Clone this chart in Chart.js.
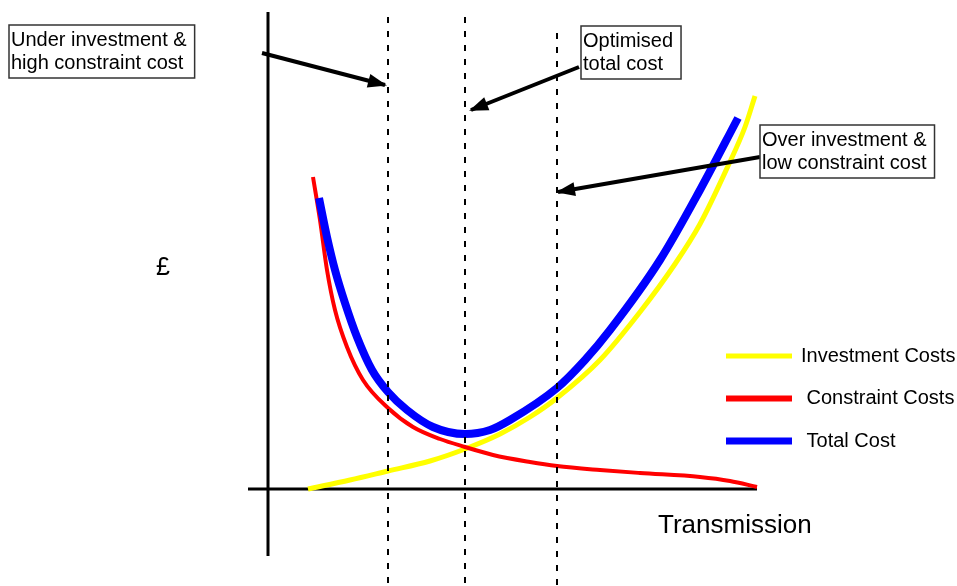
<!DOCTYPE html>
<html>
<head>
<meta charset="utf-8">
<script src="https://cdn.jsdelivr.net/npm/chart.js@4"></script>
<style>
  body { margin: 0; background: #fff; }
  #wrap { width: 957px; height: 586px; }
</style>
</head>
<body>
<div id="wrap"><canvas id="costChart" width="957" height="586"></canvas></div>
<script>
// Transmission level (x) / cost in £ (y)
const investX = [0.8, 1.64, 2.4, 3.24, 3.94, 4.64, 5.24, 5.78, 6.64, 7.44, 8.14, 8.64, 9.2, 9.54, 9.74];
const investY = [0, 0.18, 0.36, 0.56, 0.8, 1.1, 1.44, 1.82, 2.58, 3.54, 4.5, 5.3, 6.46, 7.24, 7.86];

const constraintX = [0.9, 1.04, 1.18, 1.34, 1.58, 1.9, 2.4, 2.9, 3.44, 3.94, 4.5, 5.24, 5.78, 6.64, 7.44, 8.64, 9.24, 9.78];
const constraintY = [6.24, 5.38, 4.38, 3.58, 2.84, 2.18, 1.62, 1.24, 1.0, 0.84, 0.68, 0.54, 0.46, 0.38, 0.32, 0.24, 0.16, 0.04];

const totalX = [1.02, 1.18, 1.34, 1.54, 1.78, 2.08, 2.4, 2.78, 3.3, 3.94, 4.44, 4.84, 5.78, 6.34, 6.84, 7.84, 8.64, 9.4];
const totalY = [5.82, 5.04, 4.38, 3.72, 3.04, 2.38, 1.94, 1.58, 1.24, 1.1, 1.18, 1.38, 2.02, 2.58, 3.18, 4.58, 5.98, 7.42];

const seriesNames = ['Investment Costs', ' Constraint Costs', ' Total Cost'];

// the three marker levels (under / optimum / over) and where their dashes start
const markerX = [2.4, 3.94, 5.78];
const markerTop = [9.44, 9.44, 9.12];
const markerBottom = -1.94;

// axes of the sketch
const vAxisY = [9.54, -1.34];
const hAxisX = [-0.4, 9.78];

// callout arrows: tail -> head
const arrowFromX = [-0.12, 6.22, 9.84];
const arrowFromY = [8.72, 8.44, 6.64];
const arrowToX = [2.34, 4.06, 5.8];
const arrowToY = [8.08, 7.58, 5.94];

const calloutText = [
  ['Under investment &', 'high constraint cost'],
  ['Optimised', 'total cost'],
  ['Over investment &', 'low constraint cost']
];

const FONT = '"Liberation Sans", Arial, sans-serif';

function pts(xs, ys) { return xs.map((x, i) => ({x: x, y: ys[i]})); }

let datasets = [];

// arrows on top
for (let i = 0; i < arrowFromX.length; i++) {
  datasets.push({
    data: [{x: arrowFromX[i], y: arrowFromY[i]}, {x: arrowToX[i], y: arrowToY[i]}],
    borderColor: '#000', borderWidth: 4, arrow: true
  });
}
// dashed markers
for (let i = 0; i < markerX.length; i++) {
  datasets.push({
    data: [{x: markerX[i], y: markerTop[i]}, {x: markerX[i], y: markerBottom}],
    borderColor: '#000', borderWidth: 2, borderDash: [6, 8]
  });
}
// curves
datasets.push({label: seriesNames[2], data: pts(totalX, totalY), borderColor: '#0000ff', borderWidth: 8, curve: true});
datasets.push({label: seriesNames[1], data: pts(constraintX, constraintY), borderColor: '#ff0000', borderWidth: 4, curve: true});
datasets.push({label: seriesNames[0], data: pts(investX, investY), borderColor: '#ffff00', borderWidth: 5, curve: true});
// axes at the bottom
datasets.push({data: [{x: 0, y: vAxisY[0]}, {x: 0, y: vAxisY[1]}], borderColor: '#000', borderWidth: 3});
datasets.push({data: [{x: hAxisX[0], y: 0}, {x: hAxisX[1], y: 0}], borderColor: '#000', borderWidth: 3});

datasets.forEach(d => { if (d.curve) d.cubicInterpolationMode = 'monotone'; });

// draws arrowheads, callout boxes, axis titles and the legend
const sketchPlugin = {
  id: 'sketch',
  afterDatasetsDraw(chart, args, opts) {
    const ctx = chart.ctx;
    const sx = chart.scales.x, sy = chart.scales.y;
    ctx.save();

    chart.data.datasets.forEach((ds, i) => {
      if (!ds.arrow) return;
      const p = chart.getDatasetMeta(i).data;
      const a = p[p.length - 2], b = p[p.length - 1];
      const ang = Math.atan2(b.y - a.y, b.x - a.x);
      const len = 17, half = 7;
      const bx = b.x - len * Math.cos(ang), by = b.y - len * Math.sin(ang);
      ctx.fillStyle = ds.borderColor;
      ctx.beginPath();
      ctx.moveTo(b.x + 2 * Math.cos(ang), b.y + 2 * Math.sin(ang));
      ctx.lineTo(bx + half * Math.sin(ang), by - half * Math.cos(ang));
      ctx.lineTo(bx - half * Math.sin(ang), by + half * Math.cos(ang));
      ctx.closePath();
      ctx.fill();
    });

    ctx.font = '20px ' + FONT;
    ctx.textBaseline = 'alphabetic';
    opts.boxes.forEach((pos, k) => {
      const lines = calloutText[k];
      const left = sx.getPixelForValue(pos.x), top = sy.getPixelForValue(pos.y);
      const w = Math.max(...lines.map(l => ctx.measureText(l).width)) + 10;
      const h = lines.length * 23 + 7;
      ctx.fillStyle = '#fff';
      ctx.fillRect(left, top, w, h);
      ctx.strokeStyle = '#333';
      ctx.lineWidth = 1.5;
      ctx.strokeRect(left, top, w, h);
      ctx.fillStyle = '#000';
      lines.forEach((l, j) => ctx.fillText(l, left + 2, top + 21 + j * 23));
    });

    // axis titles
    ctx.fillStyle = '#000';
    ctx.textBaseline = 'middle';
    ctx.textAlign = 'center';
    ctx.font = '25px ' + FONT;
    ctx.fillText('£', sx.getPixelForValue(opts.yTitle.x), sy.getPixelForValue(opts.yTitle.y));
    ctx.textAlign = 'left';
    ctx.font = '26px ' + FONT;
    ctx.fillText('Transmission', sx.getPixelForValue(opts.xTitle.x), sy.getPixelForValue(opts.xTitle.y));

    // legend
    const lg = opts.legend;
    ctx.font = '20px ' + FONT;
    const curves = chart.data.datasets.filter(d => d.curve).reverse();
    curves.forEach((ds, k) => {
      const y = lg.y + k * lg.gap;
      ctx.strokeStyle = ds.borderColor;
      ctx.lineWidth = [5, 6, 7][k];
      ctx.beginPath();
      ctx.moveTo(lg.x, y);
      ctx.lineTo(lg.x + lg.line, y);
      ctx.stroke();
      ctx.fillStyle = '#000';
      ctx.fillText(ds.label, lg.x + lg.line + 9, y);
    });
    ctx.restore();
  }
};

new Chart(document.getElementById('costChart'), {
  type: 'line',
  data: {datasets: datasets},
  options: {
    responsive: false,
    animation: false,
    layout: {padding: 0},
    elements: {point: {radius: 0, hoverRadius: 0}, line: {borderCapStyle: 'butt', fill: false}},
    datasets: {line: {clip: false}},
    scales: {
      x: {type: 'linear', min: -5.36, max: 13.78, display: false},
      y: {type: 'linear', min: -1.94, max: 9.78, display: false}
    },
    plugins: {
      legend: {display: false},
      tooltip: {enabled: false},
      sketch: {
        boxes: [{x: -5.18, y: 9.28}, {x: 6.26, y: 9.26}, {x: 9.84, y: 7.28}],
        yTitle: {x: -2.1, y: 4.42},
        xTitle: {x: 7.8, y: -0.74},
        legend: {x: 726, y: 356, gap: 42.5, line: 66}
      }
    }
  },
  plugins: [sketchPlugin]
});
</script>
</body>
</html>
